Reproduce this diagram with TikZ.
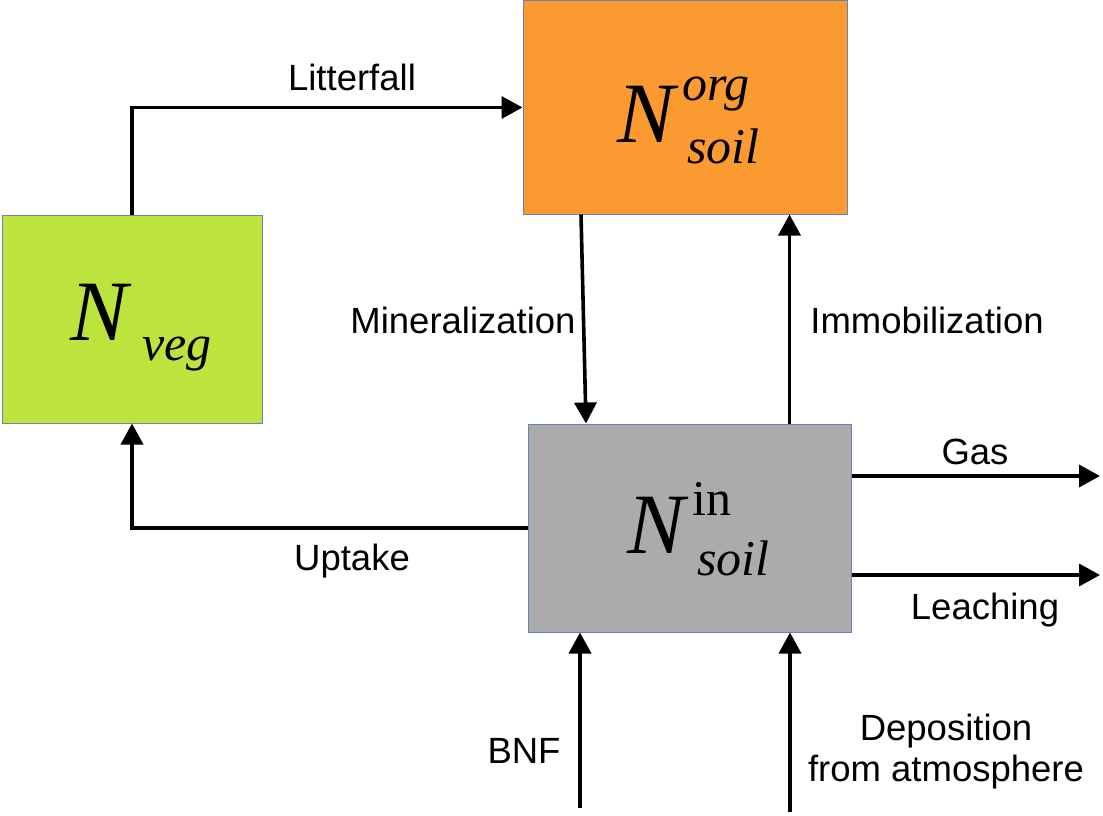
\documentclass[tikz,border=0pt]{standalone}
\usepackage{fontspec}
\setmainfont{Liberation Sans}
\newfontfamily\serifmath{Liberation Serif}
\usetikzlibrary{arrows.meta}
\definecolor{vegc}{RGB}{189,227,61}
\definecolor{orgc}{RGB}{250,154,48}
\definecolor{inc}{RGB}{171,171,171}
\definecolor{edgec}{RGB}{108,130,180}
\tikzset{
  box/.style={draw=edgec, line width=1pt, rectangle, inner sep=0pt},
  arr/.style={line width=3.6pt, -{Triangle[length=21pt,width=22pt]}},
  lbl/.style={font=\fontsize{36.5}{41}\selectfont, inner sep=0pt, align=center},
  bigN/.style={font=\serifmath\itshape\fontsize{86}{86}\selectfont, anchor=base west, inner sep=0pt},
  idx/.style={font=\serifmath\itshape\fontsize{50}{50}\selectfont, anchor=base west, inner sep=0pt},
  idxup/.style={font=\serifmath\fontsize{50}{50}\selectfont, anchor=base west, inner sep=0pt}
}
\begin{document}
\begin{tikzpicture}[x=1pt,y=-1pt]
\useasboundingbox (0,0) rectangle (1103,816);
% boxes
\node[box, fill=vegc, minimum width=260pt, minimum height=208pt] (veg) at (132,319) {};
\node[box, fill=orgc, minimum width=324pt, minimum height=213pt] (org) at (685,107.5) {};
\node[box, fill=inc, minimum width=323pt, minimum height=208pt] (in) at (689.5,528) {};
% box labels
\node[bigN] (vegN) at (70,340) {N};
\node[idx] (vegsub) at (142,360) {veg};
\node[bigN] (orgN) at (617,142) {N};
\node[idx] (orgsup) at (682,100) {org};
\node[idx] (orgsub) at (687,163) {soil};
\node[bigN] (inN) at (627,553) {N};
\node[idxup] (insup) at (692,515) {in};
\node[idx] (insub) at (697,575) {soil};
% free ends
\coordinate (gasend) at (1100,476);
\coordinate (leachend) at (1100,575);
\coordinate (bnfstart) at (580,808);
\coordinate (depstart) at (790,812);
% connectors
\draw[arr] (veg.north) |- (org.west);
\draw[arr] ([xshift=-104pt]org.south) -- ([xshift=-103.5pt]in.north);
\draw[arr] ([xshift=100pt]in.north) -- ([xshift=100pt]in.north |- org.south);
\draw[arr] (in.west) -| (veg.south);
\draw[arr] ([yshift=52pt]in.east) -- (gasend);
\draw[arr] ([yshift=-47pt]in.east) -- (leachend);
\draw[arr] (bnfstart) -- (bnfstart |- in.south);
\draw[arr] (depstart) -- (depstart |- in.south);
% labels
\node[lbl] (l1) at (352,77) {Litterfall};
\node[lbl] (l2) at (463,320) {Mineralization};
\node[lbl] (l3) at (927,320) {Immobilization};
\node[lbl] (l4) at (352,561) {Uptake};
\node[lbl] (l5) at (975,452) {Gas};
\node[lbl] (l6) at (985,610) {Leaching};
\node[lbl] (l7) at (524,751) {BNF};
\node[lbl] (l8) at (946,752) {Deposition\\from atmosphere};
\end{tikzpicture}
\end{document}
